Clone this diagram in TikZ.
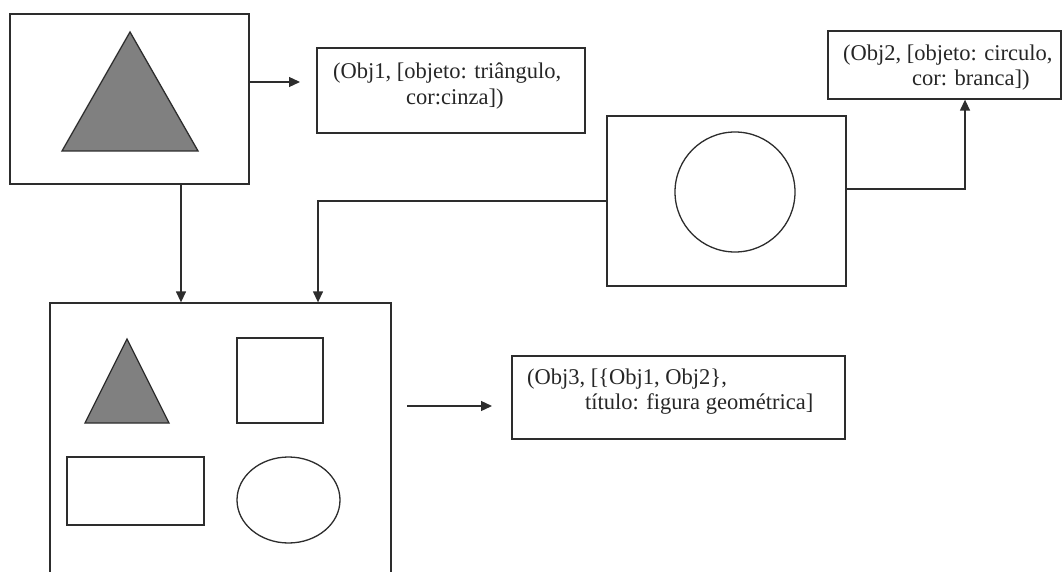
\documentclass[tikz,border=0pt]{standalone}
\usepackage{fontspec}
\setmainfont{Liberation Serif}
\usetikzlibrary{arrows.meta}
\definecolor{inkline}{RGB}{45,45,45}
\definecolor{shapegray}{RGB}{128,128,128}
\begin{document}
\begin{tikzpicture}[x=1pt,y=-1pt,
  frame/.style={draw=inkline, line width=1.3pt, rectangle, inner sep=0pt, fill=white},
  txt/.style={anchor=base west, inner sep=0pt, font=\fontsize{22.5}{27}\selectfont, text=black!85},
  link/.style={draw=inkline, line width=1.3pt, -{Triangle[length=11pt,width=10pt]}},
  outline/.style={draw=inkline, line width=1.3pt},
  solid gray/.style={outline, fill=shapegray}]

\useasboundingbox (0,0) rectangle (1062,572);
\clip (0,0) rectangle (1062,572);

% frames
\node[frame, minimum width=239pt, minimum height=170pt] (boxA) at (129.5,99) {};
\node[frame, minimum width=268pt, minimum height=85pt] (obj1) at (451,90.5) {};
\node[frame, minimum width=233pt, minimum height=68pt] (obj2) at (944.5,65) {};
\node[frame, minimum width=239pt, minimum height=170pt] (boxC) at (726.5,201) {};
\node[frame, minimum width=341pt, minimum height=317pt] (boxD) at (220.5,461.5) {};
\node[frame, minimum width=333pt, minimum height=83pt] (obj3) at (678.5,397.5) {};

% contents of the first frame
\draw[solid gray] (130,32) -- (62,151) -- (198,151) -- cycle;

% contents of the circle frame
\draw[outline] (735,192) circle (60);

% contents of the composite frame
\draw[solid gray] (127,339) -- (85,423) -- (169,423) -- cycle;
\draw[outline] (237,338) rectangle (323,423);
\draw[outline] (67,457) rectangle (204,525);
\draw[outline] (288.5,500) ellipse [x radius=51.5, y radius=43];

% descriptions
\node[txt] (obj1a) at (333,79) {(Obj1, [objeto: triângulo,};
\node[txt] (obj1b) at (406,105) {cor:cinza])};
\node[txt] (obj2a) at (843,61) {(Obj2, [objeto: circulo,};
\node[txt] (obj2b) at (912,86) {cor: branca])};
\node[txt] (obj3a) at (527,384) {(Obj3, [\{Obj1, Obj2\},};
\node[txt] (obj3b) at (585,409) {título: figura geométrica]};

% connectors
\coordinate (t1) at (300,82);
\draw[link] (boxA.east |- t1) -- (t1);
\coordinate (dA) at (181,0);
\draw[link] (boxA.south -| dA) -- (boxD.north -| dA);
\coordinate (cw) at (318,201);
\draw[link] (boxC.west |- cw) -- (cw) -- (boxD.north -| cw);
\coordinate (ce) at (965,189);
\draw[link] (boxC.east |- ce) -- (ce) -- (obj2.south -| ce);
\coordinate (m1) at (407,406);
\coordinate (m2) at (492,406);
\draw[link] (m1) -- (m2);
\end{tikzpicture}
\end{document}
